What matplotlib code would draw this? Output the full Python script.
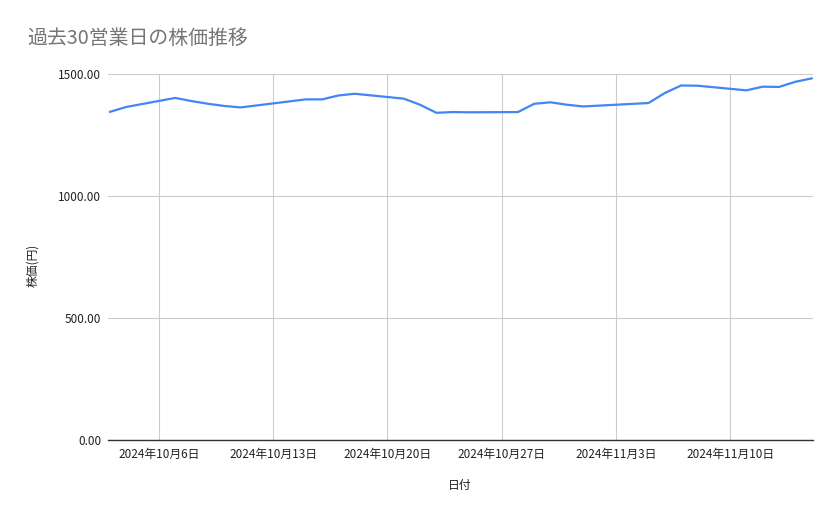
import pandas as pd
import numpy as np
import matplotlib.pyplot as plt
import matplotlib.dates as mdates
from matplotlib.ticker import FormatStrFormatter

plt.rcParams['font.family'] = ['Noto Sans CJK JP', 'DejaVu Sans']

# 30 business days
dates = ["2024-10-03", "2024-10-04", "2024-10-07", "2024-10-08", "2024-10-09",
         "2024-10-10", "2024-10-11", "2024-10-15", "2024-10-16", "2024-10-17",
         "2024-10-18", "2024-10-21", "2024-10-22", "2024-10-23", "2024-10-24",
         "2024-10-25", "2024-10-28", "2024-10-29", "2024-10-30", "2024-10-31",
         "2024-11-01", "2024-11-05", "2024-11-06", "2024-11-07", "2024-11-08",
         "2024-11-11", "2024-11-12", "2024-11-13", "2024-11-14", "2024-11-15"]
prices = [1345, 1365, 1402, 1389, 1378, 1369, 1363, 1396, 1396, 1412,
          1419, 1399, 1374, 1341, 1344, 1343, 1344, 1378, 1384, 1374,
          1367, 1381, 1422, 1453, 1452, 1433, 1448, 1447, 1468, 1482]
tick_dates = ["2024-10-06", "2024-10-13", "2024-10-20", "2024-10-27",
              "2024-11-03", "2024-11-10"]
tick_labels = ["2024年10月6日", "2024年10月13日", "2024年10月20日", "2024年10月27日",
               "2024年11月3日", "2024年11月10日"]
y_ticks = [0, 500, 1000, 1500]

x = pd.to_datetime(dates)

fig = plt.figure(figsize=(8.39, 5.19), dpi=100)
ax = fig.add_axes([108 / 839, 1 - 440 / 519, 705 / 839, 366 / 519])

ax.plot(x, prices, color="#4285F4", linewidth=1.6, solid_joinstyle="round")

ax.set_xlim(pd.Timestamp("2024-10-02 21:00"), pd.Timestamp("2024-11-15 02:00"))
ax.set_ylim(0, 1500)
ax.set_yticks(y_ticks)
ax.yaxis.set_major_formatter(FormatStrFormatter("%.2f"))
ax.set_xticks(pd.to_datetime(tick_dates))
ax.set_xticklabels(tick_labels)

ax.grid(True, color="#cccccc", linewidth=0.8)
ax.set_axisbelow(True)
for s in ["top", "right", "left"]:
    ax.spines[s].set_visible(False)
ax.spines["bottom"].set_color("#333333")
ax.spines["bottom"].set_linewidth(1.0)
ax.tick_params(axis="both", length=0, labelsize=8.5, colors="#222222")
ax.tick_params(axis="x", pad=6)
ax.tick_params(axis="y", pad=5)

ax.set_xlabel("日付", fontsize=8.5, color="#222222", va="center")
ax.set_ylabel("株価(円)", fontsize=8.5, color="#222222", va="center")
ax.xaxis.set_label_coords((460 - 108) / 705, (440 - 486) / 366)
ax.yaxis.set_label_coords((33 - 108) / 705, (440 - 265) / 366)

fig.text(27 / 839, 1 - 38 / 519, "過去30営業日の株価推移", fontsize=14.3,
         color="#757575", va="center", ha="left")

fig.savefig("out.png", dpi=100, facecolor="white")
